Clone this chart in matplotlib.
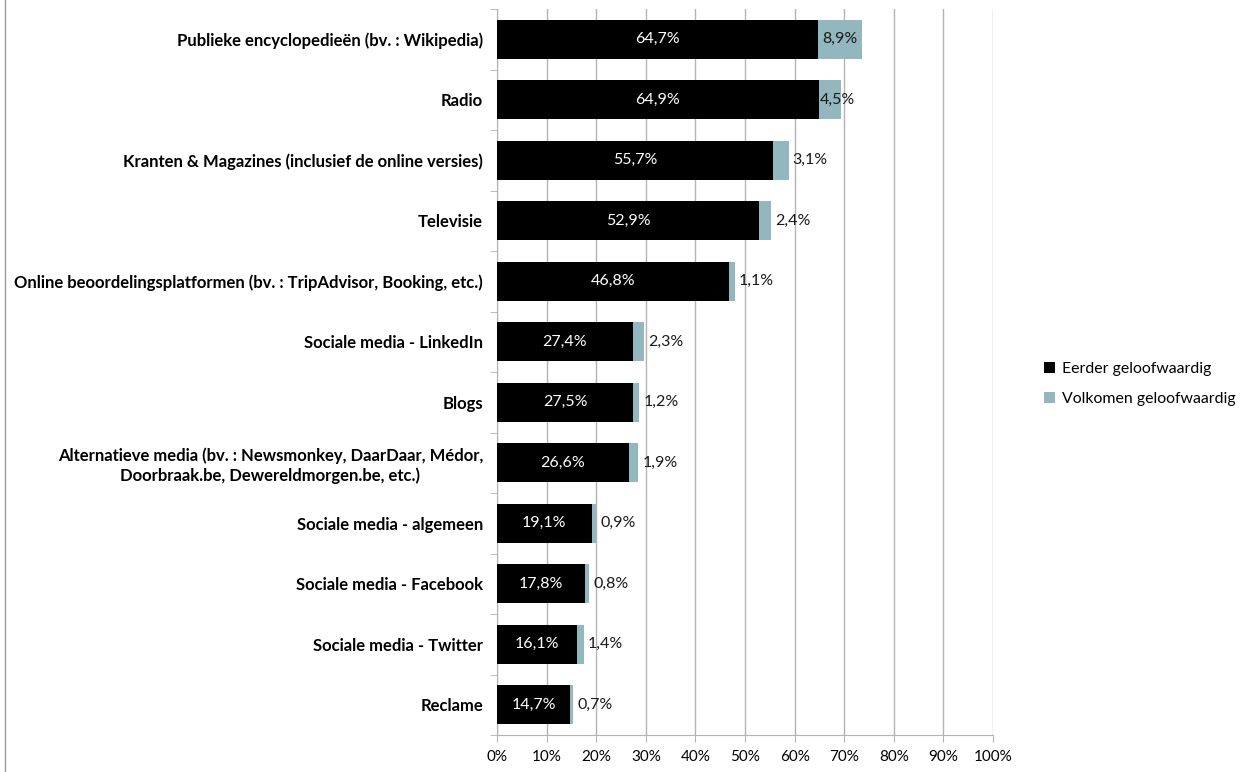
import numpy as np
import matplotlib
matplotlib.use('Agg')
import matplotlib.pyplot as plt
from matplotlib.lines import Line2D
from matplotlib.patches import Patch

plt.rcParams['font.family'] = ['Lato', 'DejaVu Sans']

categories = [
    'Publieke encyclopedieën (bv. : Wikipedia)',
    'Radio',
    'Kranten & Magazines (inclusief de online versies)',
    'Televisie',
    'Online beoordelingsplatformen (bv. : TripAdvisor, Booking, etc.)',
    'Sociale media - LinkedIn',
    'Blogs',
    'Alternatieve media (bv. : Newsmonkey, DaarDaar, Médor,\nDoorbraak.be, Dewereldmorgen.be, etc.)',
    'Sociale media - algemeen',
    'Sociale media - Facebook',
    'Sociale media - Twitter',
    'Reclame',
]
eerder = [64.7, 64.9, 55.7, 52.9, 46.8, 27.4, 27.5, 26.6, 19.1, 17.8, 16.1, 14.7]
volkomen = [8.9, 4.5, 3.1, 2.4, 1.1, 2.3, 1.2, 1.9, 0.9, 0.8, 1.4, 0.7]
series_names = ['Eerder geloofwaardig', 'Volkomen geloofwaardig']
xticks = list(range(0, 101, 10))

black = '#000000'
blue = '#93b7bf'
grid = '#b3b3b3'


def fmt(v):
    return f'{v:.1f}%'.replace('.', ',')


fig = plt.figure(figsize=(12.47, 7.72), dpi=100)
ax = fig.add_axes([0.3986, 0.0479, 0.3977, 0.9404])

y = np.arange(len(categories))
e = np.array(eerder)
v = np.array(volkomen)
ax.barh(y, e, height=0.65, color=black, zorder=3)
ax.barh(y, v, left=e, height=0.65, color=blue, zorder=3)

for yi, a, b in zip(y, e, v):
    ax.text(a / 2, yi, fmt(a), color='white', ha='center', va='center', fontsize=11.5, zorder=4)
    if b >= 6:
        ax.text(a + b / 2, yi, fmt(b), color='#1a1a1a', ha='center', va='center', fontsize=11.5, zorder=4)
    elif b >= 4:
        # label wider than the segment: start it at the segment edge
        ax.text(a + 0.2, yi, fmt(b), color='#1a1a1a', ha='left', va='center', fontsize=11.5, zorder=4)
    else:
        ax.text(a + b + 0.8, yi, fmt(b), color='#1a1a1a', ha='left', va='center', fontsize=11.5, zorder=4)

ax.set_xlim(0, 100)
ax.set_ylim(len(categories) - 0.5, -0.5)
ax.set_xticks(xticks)
ax.set_xticklabels([f'{t}%' for t in xticks], fontsize=11)
ax.set_yticks(y)
ax.set_yticklabels(categories, fontsize=12, fontweight='bold', ha='right', multialignment='center')
ax.set_yticks(np.arange(-0.5, len(categories), 1), minor=True)
ax.tick_params(axis='y', which='major', length=0, pad=10)
ax.tick_params(axis='y', which='minor', length=5, color=grid, direction='out')
ax.tick_params(axis='x', length=5, color=grid, direction='out', pad=6)
ax.xaxis.grid(True, color=grid, linewidth=1, zorder=0)

for side in ['top', 'right']:
    ax.spines[side].set_visible(False)
for side in ['left', 'bottom']:
    ax.spines[side].set_color(grid)

handles = [Patch(facecolor=black, label=series_names[0]),
           Patch(facecolor=blue, label=series_names[1])]
fig.legend(handles=handles, loc='center left', bbox_to_anchor=(0.826, 0.503), frameon=False,
           fontsize=11.4, handlelength=0.7, handleheight=0.7, handletextpad=0.4, labelspacing=1.0)

fig.add_artist(Line2D([0.004, 0.004], [0.0, 1.0], color='#999999', linewidth=1, transform=fig.transFigure))

fig.savefig('out.png', dpi=100)
